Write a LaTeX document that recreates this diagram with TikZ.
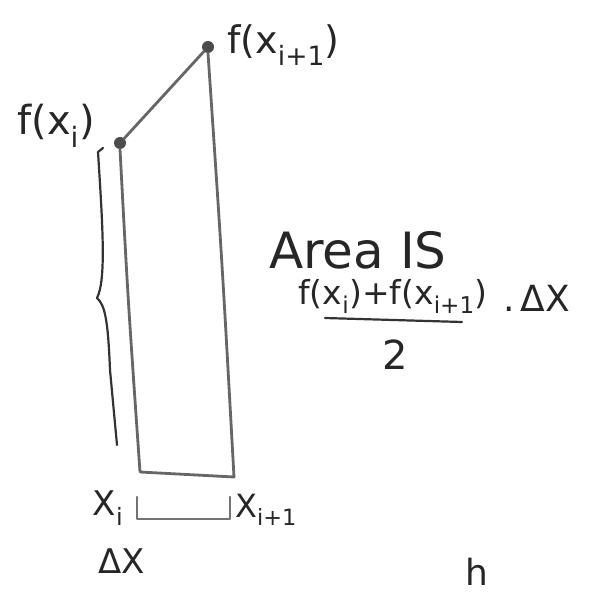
\documentclass[tikz,border=0pt]{standalone}
\usepackage{fontspec}
\setmainfont{DejaVu Sans}
\begin{document}
\begin{tikzpicture}[x=1pt,y=-1pt,
  pen/.style={draw=black!60,line width=2.8pt,line cap=round,line join=round},
  ink/.style={draw=black!80,line width=2.2pt,line cap=round,line join=round},
  dot/.style={circle,fill=black!70,inner sep=0pt,minimum size=12pt},
  hand/.style={text=black!85,inner sep=1pt,font=\fontsize{#1}{#1}\selectfont},
  hand/.default=40]
\useasboundingbox (0,0) rectangle (596,593);
% points
\node[dot] (fi) at (120,143) {};
\node[dot] (fj) at (208,47) {};
\coordinate (bl) at (140,472);
\coordinate (br) at (234,477);
% trapezoid
\draw[pen] (fi) -- (fj);
\draw[pen] (fi.south) .. controls (128,300) .. (bl) -- (br) .. controls (222,260) .. (fj.south);
% brace
\coordinate (b0) at (103,148);
\coordinate (b1) at (117,445);
\draw[ink] (b0) -- (98,152) .. controls (103,230) and (106,280) .. (97,298)
  .. controls (105,305) and (108,320) .. (110,370) -- (b1);
% labels
\node[hand=38,anchor=west] (lfj) at (226,45) {f(x\textsubscript{i+1})};
\node[hand=40] (lfi) at (56,126) {f(x\textsubscript{i})};
\node[hand=34] (lxi) at (108,508) {X\textsubscript{i}};
\node[hand=32,anchor=west] (lxj) at (234,510) {X\textsubscript{i+1}};
\node[hand=34] (ldx) at (122,561) {ΔX};
% bottom bracket
\coordinate (k0) at (137,497);
\coordinate (k1) at (230,497);
\draw[ink,draw=black!55] (k0) -- (137,519) -- (230,519) -- (k1);
% area text
\node[hand=50,anchor=west] (area) at (268,250) {Area IS};
\node[hand=33] (num) at (393,296) {f(x\textsubscript{i})+f(x\textsubscript{i+1})};
\coordinate (fl) at (325,318);
\coordinate (fr) at (462,322);
\draw[ink] (fl) -- (fr);
\node[hand=40] (two) at (395,355) {2};
\node[hand=36,anchor=west] (dx) at (502,298) {.\,ΔX};
\node[hand=36,anchor=north west] (hh) at (464,557) {h};
\end{tikzpicture}
\end{document}
